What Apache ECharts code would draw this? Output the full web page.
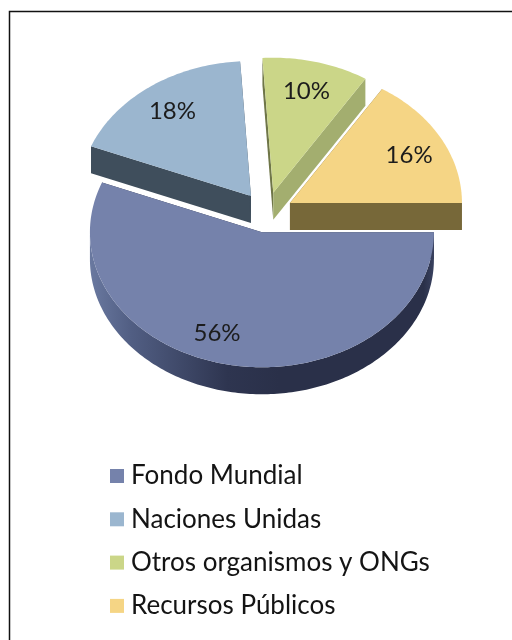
<!DOCTYPE html>
<html>
<head>
<meta charset="utf-8">
<style>html,body{margin:0;padding:0;background:#fff}#c{width:512px;height:640px}</style>
<script src="https://cdn.jsdelivr.net/npm/echarts@6/dist/echarts.min.js"></script>
</head>
<body>
<div id="c"></div>
<script>
var categories = ['Fondo Mundial', 'Naciones Unidas', 'Otros organismos y ONGs', 'Recursos Públicos'];
var shares = [56, 18, 10, 16];
var topColors = ['#7582ab', '#9bb6cf', '#cbd688', '#f5d585'];
var faceColors = ['#2a3049', '#3f4e5c', '#a3ae6f', '#776839'];
var startFaceColors = ['#2a3049', '#3f4e5c', '#6f7648', '#776839'];
var explode = [0.145, 0.155, 0.155, 0.155];
var labelShift = [8.5, 0, 0, 2];
var labelRadius = [0.79, 0.776, 0.776, 0.776];

var CX = 266.6, CY = 213, RX = 172, RY = 135, DEPTH = 27;
var FONT = 'Lato';
var rad = function (d) { return d * Math.PI / 180; };

var total = shares.reduce(function (a, b) { return a + b; }, 0);
var starts = [];
shares.reduce(function (acc, v, i) { starts[i] = acc; return acc + v; }, 0);

function sliceChildren(i) {
  var a0 = starts[i] / total * 360, a1 = a0 + shares[i] / total * 360, mid = (a0 + a1) / 2;
  var ax = CX + explode[i] * RX * Math.cos(rad(mid));
  var ay = CY + explode[i] * RY * Math.sin(rad(mid));
  var rim = function (a, dz) {
    return [ax + RX * Math.cos(rad(a)), ay + RY * Math.sin(rad(a)) + (dz || 0)];
  };
  var top = [[ax, ay]], a;
  for (a = a0; a < a1; a += 1) top.push(rim(a));
  top.push(rim(a1));

  var children = [];
  var face = function (ang, col) {
    children.push({
      type: 'polygon',
      shape: { points: [[ax, ay], rim(ang), rim(ang, DEPTH), [ax, ay + DEPTH]] },
      style: { fill: col }
    });
  };
  face(a0, startFaceColors[i]);
  face(a1, faceColors[i]);

  var wa0 = Math.max(a0, 0), wa1 = Math.min(a1, 180);
  if (wa1 > wa0) {
    var up = [], down = [];
    for (a = wa0; a <= wa1; a += 1) { up.push(rim(a)); down.unshift(rim(a, DEPTH)); }
    children.push({
      type: 'polygon',
      shape: { points: up.concat(down) },
      style: {
        fill: {
          type: 'linear', x: 0, y: 0, x2: 1, y2: 0,
          colorStops: [
            { offset: 0, color: '#6a79a0' },
            { offset: 0.12, color: '#515e83' },
            { offset: 0.4, color: '#2e3550' },
            { offset: 0.55, color: faceColors[i] },
            { offset: 0.97, color: faceColors[i] },
            { offset: 1, color: '#3a4260' }
          ]
        }
      }
    });
  }
  children.push({ type: 'polygon', shape: { points: top }, style: { fill: topColors[i] } });

  var la = mid + labelShift[i];
  children.push({
    type: 'text',
    style: {
      x: ax + labelRadius[i] * RX * Math.cos(rad(la)),
      y: ay + labelRadius[i] * RY * Math.sin(rad(la)),
      text: shares[i] + '%',
      fill: '#1c1c1c',
      font: '24px ' + FONT,
      align: 'center',
      verticalAlign: 'middle'
    }
  });
  return children;
}

var series = categories.map(function (name, i) {
  return {
    type: 'custom',
    name: name,
    coordinateSystem: 'none',
    z: 10 - i,
    silent: true,
    itemStyle: { color: topColors[i] },
    data: [shares[i]],
    renderItem: function () { return { type: 'group', children: sliceChildren(i) }; }
  };
});
// Fondo Mundial sits in front of the other slices
series[0].z = 20;

var chart = echarts.init(document.getElementById('c'), null, { renderer: 'canvas' });
chart.setOption({
  animation: false,
  backgroundColor: '#fff',
  legend: {
    data: categories,
    orient: 'vertical',
    left: 110,
    top: 462,
    padding: 0,
    icon: 'rect',
    itemWidth: 14,
    itemHeight: 14,
    itemGap: 15.3,
    selectedMode: false,
    textStyle: { fontFamily: FONT, fontSize: 26, color: '#141414', padding: [0, 0, 0, 2], lineHeight: 28 }
  },
  graphic: [{
    type: 'polyline',
    shape: { points: [[9.5, 640], [9.5, 11.5], [512, 11.5]] },
    style: { stroke: '#111', lineWidth: 1.5, fill: null }
  }],
  series: series
});
</script>
</body>
</html>
